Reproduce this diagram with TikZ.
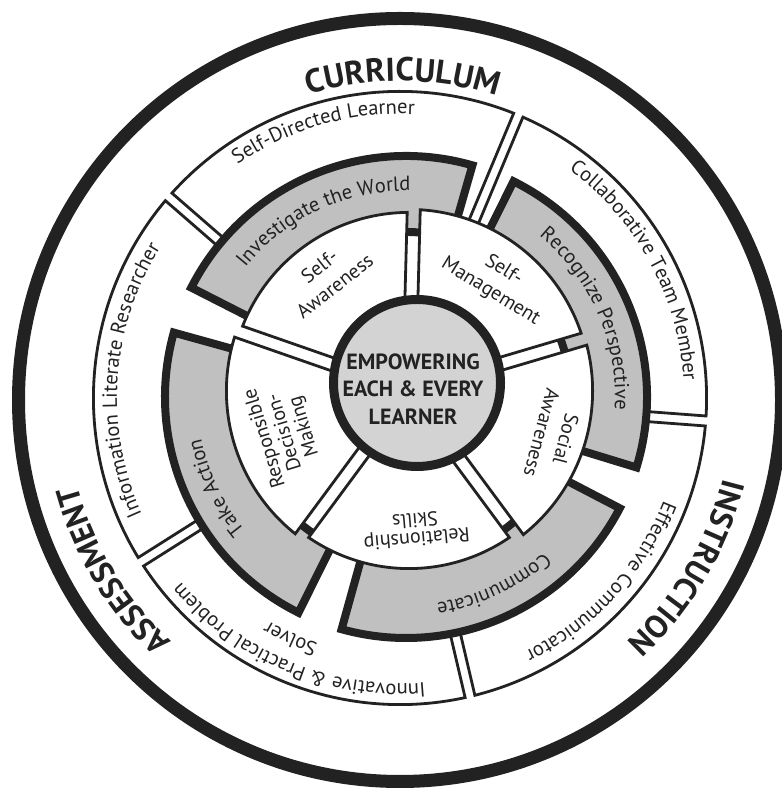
\documentclass[tikz,border=0pt]{standalone}
\usepackage{fontspec}
\newfontfamily\labfont{PT Sans}
\usetikzlibrary{decorations.text}
\definecolor{ink}{RGB}{34,34,34}
\definecolor{ringgray}{RGB}{192,192,192}
\definecolor{hubgray}{RGB}{211,211,211}
% annular sector: style, centre, a1, a2, rin, rout, half channel width
\newcommand{\annsec}[7]{%
  \path[#1,shift={#2}] ({#3+asin(#7/#6)}:#6)
    arc[start angle={#3+asin(#7/#6)}, end angle={#4-asin(#7/#6)}, radius=#6]
    -- ({#4-asin(#7/#5)}:#5)
    arc[start angle={#4-asin(#7/#5)}, end angle={#3+asin(#7/#5)}, radius=#5] -- cycle;}
% curved label: centre, mid angle, radius, half span, text
\newcommand{\arclabel}[5]{%
  \path[shift={#1}, decorate, decoration={text along path, text align=center,
        text color=ink, text={#5}}]
    ({#2+#4}:#3) arc[start angle={#2+#4}, end angle={#2-#4}, radius=#3];}
\newcommand{\labsize}{\labfont\fontsize{20.5}{21}\selectfont}
\newcommand{\bigsize}{\labfont\bfseries\fontsize{32}{32}\selectfont}
\newcommand{\topsize}{\labfont\bfseries\fontsize{33}{33}\selectfont}
\begin{document}
\begin{tikzpicture}[x=1pt,y=1pt,line join=miter,
  whitesec/.style={fill=white, draw=ink, line width=2.8pt},
  graysec/.style={fill=ringgray, draw=ink, line width=8pt},
  innerlab/.style={font=\labfont\fontsize{20}{25}\selectfont, text=ink, align=center, inner sep=0pt}]
\fill[white] (0,0) rectangle (781,791);
\useasboundingbox (0,0) rectangle (781,791);
% outer ring
\draw[ink, line width=13pt] (400,391) circle[radius=381.5];
% outer white sectors
\annsec{whitesec}{(400,393)}{67.3}{139}{40}{306.6}{5}
\annsec{whitesec}{(400,393)}{-4.3}{67.3}{40}{306.6}{5}
\annsec{whitesec}{(400,393)}{-76.8}{-4.3}{40}{306.6}{5}
\annsec{whitesec}{(400,393)}{-147.7}{-76.8}{40}{306.6}{5}
\annsec{whitesec}{(400,393)}{139}{212.3}{40}{306.6}{5}
% grey sectors
\annsec{graysec}{(406,394)}{74}{153}{165}{241}{0}
\annsec{graysec}{(406,394)}{-17}{63.5}{165}{241}{0}
\annsec{graysec}{(406,394)}{-105.5}{-27.5}{165}{241}{0}
\annsec{graysec}{(406,394)}{164.5}{243.5}{165}{241}{0}
% inner white sectors
\annsec{whitesec}{(409,400)}{88.5}{160.8}{50}{178.6}{6.5}
\annsec{whitesec}{(409,400)}{16.5}{88.5}{50}{181.6}{6.5}
\annsec{whitesec}{(409,400)}{-53.5}{16.5}{50}{183.6}{6.5}
\annsec{whitesec}{(409,400)}{-126.5}{-53.5}{50}{177.6}{6.5}
\annsec{whitesec}{(409,400)}{160.8}{233.5}{50}{182.6}{6.5}
% hub
\node[circle, fill=hubgray, draw=ink, line width=9pt, minimum size=167pt, inner sep=0pt] (hub) at (417,408) {};
\node[font=\labfont\bfseries\fontsize{22}{27.5}\selectfont, align=center, text=ink, inner sep=0pt] (hubtext) at (413,402) {EMPOWERING\\EACH \& EVERY\\LEARNER};
% inner labels
\node[innerlab, rotate=38] (selfaw) at (327,515) {Self-\\Awareness};
\node[innerlab, rotate=-31.5] (selfman) at (497,510) {Self-\\Management};
\node[innerlab, rotate=-105] (socaw) at (554,355) {Social\\Awareness};
\node[innerlab, rotate=185, font=\labfont\fontsize{20}{19}\selectfont] (relsk) at (416,261) {Relationship\\Skills};
\node[innerlab, rotate=107, font=\labfont\fontsize{20}{20.5}\selectfont] (respdm) at (285,359) {Responsible\\Decision-\\Making};
% grey ring labels
\arclabel{(406,394)}{115}{206}{45}{|\labsize|Investigate the World}
\arclabel{(406,394)}{23.5}{209}{45}{|\labsize|Recognize Perspective}
\arclabel{(406,394)}{-65}{208}{40}{|\labsize|Communicate}
\arclabel{(406,394)}{205.5}{209}{40}{|\labsize|Take Action}
% outer ring labels
\arclabel{(400,393)}{106}{284}{45}{|\labsize|Self-Directed Learner}
\arclabel{(400,393)}{28.5}{284}{45}{|\labsize|Collaborative Team Member}
\arclabel{(400,393)}{-42.5}{283}{40}{|\labsize|Effective Communicator}
\arclabel{(400,393)}{-112.5}{286}{50}{|\labsize|Innovative {\&} Practical Problem}
\arclabel{(400,393)}{-114.5}{259}{20}{|\labsize|Solver}
\arclabel{(400,393)}{176}{283}{50}{|\labsize|Information Literate Researcher}
% big labels
\arclabel{(400,393)}{89.5}{317}{35}{|\topsize|CURRICULUM}
\arclabel{(400,393)}{-30.6}{333}{35}{|\bigsize|INSTRUCTION}
\arclabel{(400,393)}{211}{334}{35}{|\bigsize|ASSESSMENT}
\end{tikzpicture}
\end{document}
